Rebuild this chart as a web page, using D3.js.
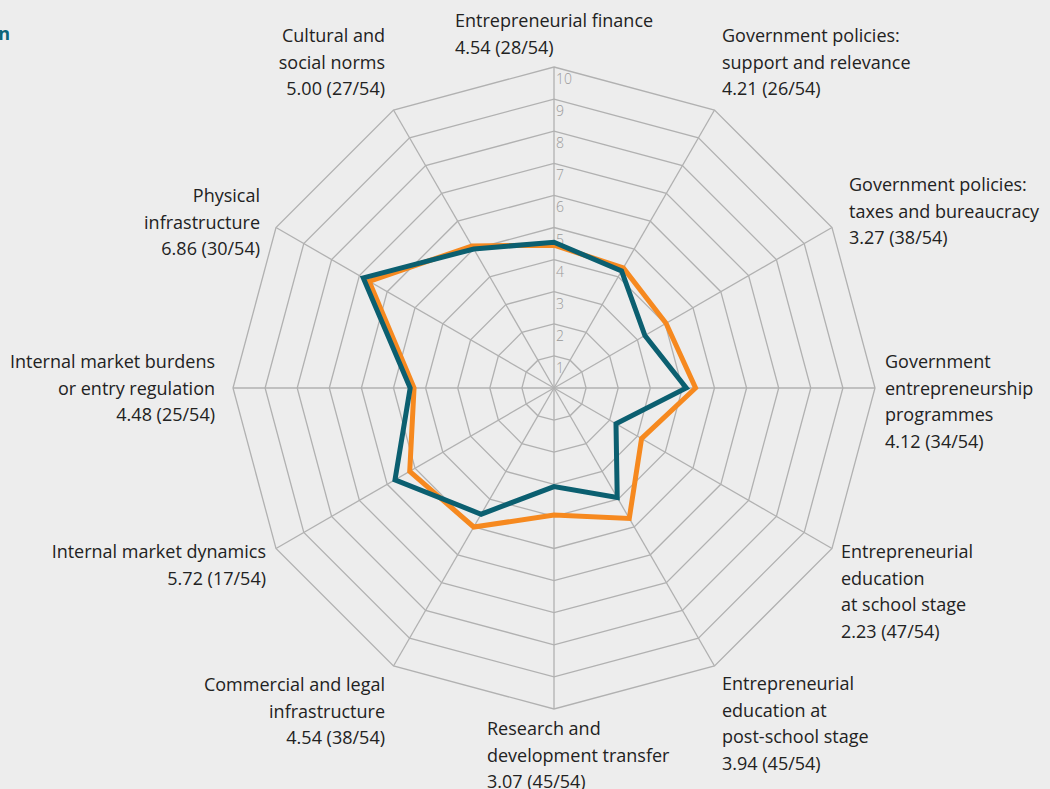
<!DOCTYPE html>
<html>
<head>
<meta charset="utf-8">
<title>Entrepreneurial framework conditions</title>
<style>
    html, body { margin: 0; padding: 0; background: #ededed; }
    svg { display: block; font-family: "Open Sans", "DejaVu Sans", sans-serif; }
</style>
</head>
<body>
<svg width="1050" height="789"></svg>

<script src="https://d3js.org/d3.v7.min.js"></script>
<script>
    // axis labels, clockwise from the top
    var categories = [
        ["Entrepreneurial finance", "4.54 (28/54)"],
        ["Government policies:", "support and relevance", "4.21 (26/54)"],
        ["Government policies:", "taxes and bureaucracy", "3.27 (38/54)"],
        ["Government", "entrepreneurship", "programmes", "4.12 (34/54)"],
        ["Entrepreneurial", "education", "at school stage", "2.23 (47/54)"],
        ["Entrepreneurial", "education at", "post-school stage", "3.94 (45/54)"],
        ["Research and", "development transfer", "3.07 (45/54)"],
        ["Commercial and legal", "infrastructure", "4.54 (38/54)"],
        ["Internal market dynamics", "5.72 (17/54)"],
        ["Internal market burdens", "or entry regulation", "4.48 (25/54)"],
        ["Physical", "infrastructure", "6.86 (30/54)"],
        ["Cultural and", "social norms", "5.00 (27/54)"]
    ];
    var economyScores = [4.54, 4.21, 3.27, 4.12, 2.23, 3.94, 3.07, 4.54, 5.72, 4.48, 6.86, 5.00];
    var averageScores = [4.45, 4.32, 4.03, 4.41, 3.15, 4.69, 3.96, 5.00, 5.19, 4.36, 6.65, 5.11];
    var ticks = [1, 2, 3, 4, 5, 6, 7, 8, 9, 10];

    var svg = d3.select("svg"),
        cx = 554, cy = 388;

    var r = d3.scaleLinear().domain([0, 10]).range([0, 321]);
    var angle = d3.scaleLinear().domain([0, categories.length]).range([0, 2 * Math.PI]);

    function pt(i, v) {
        var a = angle(i);
        return [cx + r(v) * Math.sin(a), cy - r(v) * Math.cos(a)];
    }

    // cut-off heading at the left edge
    svg.append("text")
        .attr("x", 10).attr("y", 40)
        .attr("text-anchor", "end")
        .style("font-size", "18px").style("font-weight", 700)
        .attr("fill", "#0b6478")
        .text("Kazakhstan");

    var g = svg.append("g");

    // web rings
    var ring = d3.line();
    g.selectAll(".ring")
        .data(ticks)
        .enter().append("path")
        .attr("class", "ring")
        .attr("d", function(t) {
            return ring(categories.map(function(c, i) { return pt(i, t); })) + "Z";
        })
        .attr("fill", "none")
        .attr("stroke", "#b1b1b1")
        .attr("stroke-width", 1.3);

    // spokes
    g.selectAll(".spoke")
        .data(categories)
        .enter().append("line")
        .attr("class", "spoke")
        .attr("x1", cx).attr("y1", cy)
        .attr("x2", function(d, i) { return pt(i, 10)[0]; })
        .attr("y2", function(d, i) { return pt(i, 10)[1]; })
        .attr("stroke", "#b1b1b1")
        .attr("stroke-width", 1.3);

    // tick numbers along the top spoke
    g.selectAll(".tick")
        .data(ticks)
        .enter().append("text")
        .attr("class", "tick")
        .attr("x", cx + 2)
        .attr("y", function(t) { return cy - r(t) + 17; })
        .style("font-size", "14px").style("font-weight", 300)
        .attr("fill", "#9a9a9a")
        .text(function(t) { return t; });

    // series
    var radial = d3.lineRadial()
        .angle(function(d, i) { return angle(i); })
        .radius(function(d) { return r(d); })
        .curve(d3.curveLinearClosed);

    [[averageScores, "#f6891f"], [economyScores, "#0b5f70"]].forEach(function(s) {
        g.append("path")
            .datum(s[0])
            .attr("transform", "translate(" + cx + "," + cy + ")")
            .attr("d", radial)
            .attr("fill", "none")
            .attr("stroke", s[1])
            .attr("stroke-width", 5)
            .attr("stroke-linejoin", "miter");
    });

    // axis labels: offset from the outer end of each spoke
    var labelOffset = [
        [-99, -40, "start"], [7.5, -68, "start"], [17, -36.5, "start"], [10, -20, "start"],
        [9, 9.5, "start"], [7.5, 24, "start"], [-67, 26, "start"], [-8.5, 25, "end"],
        [-10, 9.5, "end"], [-18, -20, "end"], [-16, -25.5, "end"], [-8.5, -68, "end"]
    ];
    var lh = 26.7;

    var label = svg.selectAll(".label")
        .data(categories)
        .enter().append("text")
        .attr("class", "label")
        .attr("text-anchor", function(d, i) { return labelOffset[i][2]; })
        .style("font-size", "18px")
        .attr("fill", "#222");

    label.selectAll("tspan")
        .data(function(d, i) {
            var p = pt(i, 10);
            return d.map(function(line, k) {
                return { text: line, x: p[0] + labelOffset[i][0], y: p[1] + labelOffset[i][1] + k * lh };
            });
        })
        .enter().append("tspan")
        .attr("x", function(d) { return d.x; })
        .attr("y", function(d) { return d.y; })
        .text(function(d) { return d.text; });
</script>
</body>
</html>
